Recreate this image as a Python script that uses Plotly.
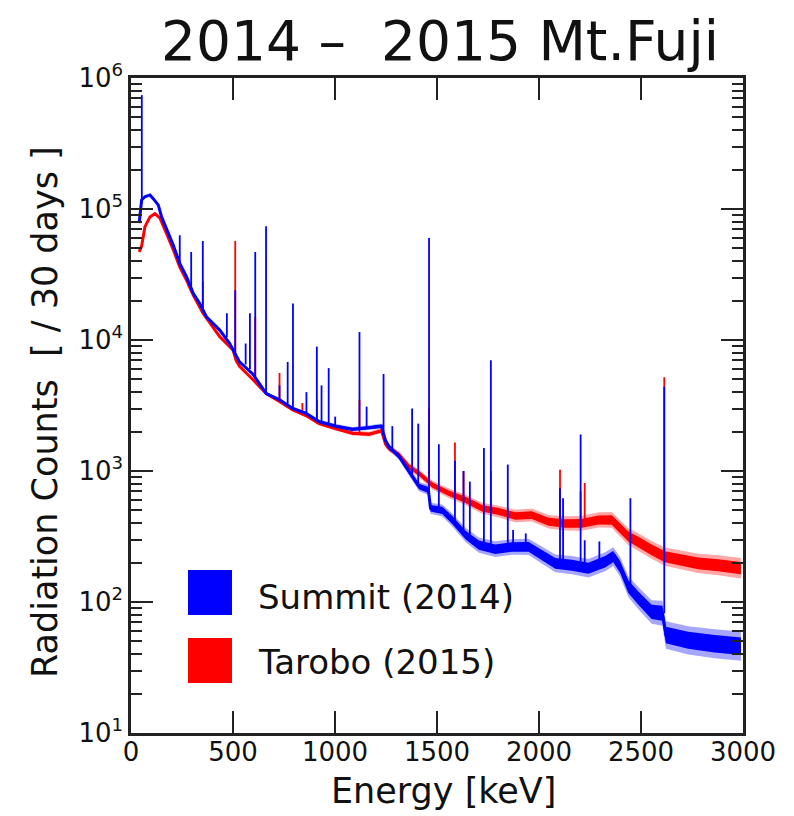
import plotly.graph_objects as go

# ---------------- data ----------------
# continuum of the Summit (2014) spectrum: energy [keV], counts, noise half-width [decades]
blue_E = [40, 52, 68, 93, 109, 134, 150, 174, 207, 239, 272, 305, 337, 370, 435, 484, 508, 532,
          597, 663, 728, 793, 858, 923, 1005, 1086, 1168, 1228, 1248, 1265, 1314, 1363, 1412,
          1458, 1468, 1526, 1575, 1640, 1705, 1786, 1868, 1949, 2014, 2080, 2161, 2242, 2324,
          2364, 2397, 2438, 2487, 2552, 2605, 2622, 2731, 2861, 2990]
blue_C = [7.8e4, 1.17e5, 1.24e5, 1.28e5, 1.2e5, 1.07e5, 8.7e4, 7.1e4, 5.3e4, 3.85e4, 3.04e4,
          2.27e4, 1.9e4, 1.5e4, 1.19e4, 9.4e3, 7.9e3, 6.8e3, 5.5e3, 3.9e3, 3.5e3, 3.0e3, 2.76e3,
          2.38e3, 2.2e3, 2.08e3, 2.14e3, 2.2e3, 1.7e3, 1.53e3, 1.29e3, 1.0e3, 760, 716, 519, 500,
          423, 325, 272, 253, 263, 263, 228, 197, 191, 181, 203, 222, 186, 131, 107, 84, 82, 56,
          51, 48, 46]
blue_N = [0.008, 0.008, 0.008, 0.008, 0.008, 0.008, 0.008, 0.008, 0.008, 0.008, 0.008, 0.008,
          0.008, 0.008, 0.009, 0.01, 0.01, 0.01, 0.011, 0.012, 0.013, 0.013, 0.014, 0.015,
          0.016, 0.017, 0.018, 0.02, 0.022, 0.024, 0.027, 0.032, 0.035, 0.038, 0.042, 0.046,
          0.05, 0.054, 0.058, 0.06, 0.06, 0.062, 0.065, 0.068, 0.07, 0.07, 0.072, 0.072, 0.075,
          0.08, 0.085, 0.09, 0.095, 0.105, 0.108, 0.11, 0.112]

# continuum of the Tarobo (2015) spectrum
red_E = [40, 52, 68, 93, 117, 142, 174, 207, 239, 272, 305, 353, 435, 500, 515, 532, 597, 663,
         728, 793, 858, 923, 1005, 1086, 1168, 1228, 1248, 1265, 1314, 1363, 1412, 1478, 1558,
         1640, 1721, 1803, 1884, 1965, 2047, 2129, 2210, 2291, 2357, 2389, 2438, 2487, 2552,
         2617, 2699, 2780, 2878, 2990]
red_C = [4.7e4, 5.2e4, 7.3e4, 8.7e4, 9.2e4, 8.5e4, 6.5e4, 4.9e4, 3.6e4, 2.87e4, 2.2e4, 1.6e4,
         1.06e4, 8.4e3, 7.0e3, 6.3e3, 5.0e3, 3.9e3, 3.4e3, 2.93e3, 2.65e3, 2.3e3, 2.1e3, 1.94e3,
         1.91e3, 2.03e3, 1.6e3, 1.48e3, 1.33e3, 1.08e3, 960, 780, 676, 602, 519, 490, 453, 461,
         410, 398, 398, 423, 423, 376, 316, 288, 250, 222, 209, 197, 191, 181]
red_N = [0.008, 0.008, 0.008, 0.008, 0.008, 0.008, 0.008, 0.008, 0.008, 0.008, 0.008, 0.008,
         0.009, 0.01, 0.01, 0.01, 0.011, 0.012, 0.013, 0.013, 0.014, 0.015, 0.016, 0.017,
         0.018, 0.02, 0.022, 0.024, 0.026, 0.028, 0.03, 0.033, 0.036, 0.039, 0.042, 0.045, 0.048,
         0.05, 0.052, 0.054, 0.056, 0.058, 0.06, 0.062, 0.064, 0.066, 0.068, 0.07, 0.072, 0.074,
         0.076, 0.078]

# photo-peaks: energy [keV], base counts, peak counts
blue_pk_E = [53, 239, 295, 352, 470, 511, 562, 583, 609, 662, 728, 768, 794, 860, 911, 934, 969,
             1001, 1120, 1155, 1238, 1281, 1378, 1408, 1461, 1509, 1588, 1630, 1661, 1730, 1764,
             1847, 1873, 1935, 2103, 2118, 2204, 2224, 2296, 2448, 2614]
blue_pk_B = [1.1e5, 3.85e4, 2.4e4, 1.65e4, 1.05e4, 8.0e3, 6.5e3, 6.0e3, 5.3e3, 3.9e3, 3.5e3,
             3.2e3, 3.0e3, 2.7e3, 2.45e3, 2.35e3, 2.3e3, 2.2e3, 2.1e3, 2.12e3, 2.0e3, 1.45e3, 950,
             780, 716, 505, 410, 340, 320, 265, 258, 260, 262, 263, 195, 193, 186, 184, 195, 125,
             82]
blue_pk_T = [7.4e5, 6.3e4, 4.7e4, 5.7e4, 1.6e4, 2.4e4, 9.4e3, 1.6e4, 4.7e4, 7.4e4, 4.5e3,
             6.8e3, 1.9e4, 4.0e3, 8.9e3, 4.5e3, 6.1e3, 2.6e3, 1.15e4, 3.1e3, 5.5e3, 2.2e3, 3.0e3,
             2.3e3, 6.0e4, 1.6e3, 1.2e3, 1.0e3, 830, 1.5e3, 7.0e3, 1.12e3, 355, 334, 740, 620,
             1.9e3, 296, 290, 620, 4.4e3]

red_pk_E = [352, 511, 609, 728, 840, 911, 1120, 1461, 1588, 1630, 1764, 2103, 2204, 2224, 2614]
red_pk_B = [1.6e4, 7.5e3, 5.0e3, 3.4e3, 2.7e3, 2.3e3, 1.93e3, 860, 660, 620, 500, 400, 398,
            398, 222]
red_pk_T = [2.8e4, 5.7e4, 1.5e4, 5.6e3, 3.3e3, 3.5e3, 3.5e3, 3.0e3, 1.65e3, 1.0e3, 1.0e3,
            1.02e3, 700, 810, 5.2e3]

x_ticks = [0, 500, 1000, 1500, 2000, 2500, 3000]
y_ticks = [1e1, 1e2, 1e3, 1e4, 1e5, 1e6]
y_ticktext = ["10<sup>1</sup>", "10<sup>2</sup>", "10<sup>3</sup>", "10<sup>4</sup>",
              "10<sup>5</sup>", "10<sup>6</sup>"]
y_minor = [m * 10 ** d for d in range(1, 6) for m in range(2, 10)]

series = [
    ("Tarobo (2015)", "#ff0000", "rgba(255,0,0,0.35)", red_E, red_C, red_N, red_pk_E, red_pk_B, red_pk_T),
    ("Summit (2014)", "#0000ff", "rgba(0,0,255,0.35)", blue_E, blue_C, blue_N, blue_pk_E, blue_pk_B, blue_pk_T),
]

FONT = "DejaVu Sans, Verdana, sans-serif"

fig = go.Figure()
for name, col, fcol, E, C, N, pE, pB, pT in series:
    up = [c * 10 ** n for c, n in zip(C, N)]
    lo = [c / 10 ** n for c, n in zip(C, N)]
    up2 = [c * 10 ** (n * 0.6) for c, n in zip(C, N)]
    lo2 = [c / 10 ** (n * 0.6) for c, n in zip(C, N)]
    fig.add_trace(go.Scatter(x=E + E[::-1], y=up + lo[::-1], fill="toself", fillcolor=fcol,
                             line=dict(width=0), mode="lines", hoverinfo="skip", showlegend=False))
    fig.add_trace(go.Scatter(x=E + E[::-1], y=up2 + lo2[::-1], fill="toself", fillcolor=col,
                             line=dict(width=0), mode="lines", hoverinfo="skip", showlegend=False))
    fig.add_trace(go.Scatter(x=E, y=C, mode="lines", line=dict(color=col, width=3),
                             name=name, showlegend=False))
    px, py = [], []
    for e, b, t in zip(pE, pB, pT):
        px += [e, e, None]
        py += [b, t, None]
    fig.add_trace(go.Scatter(x=px, y=py, mode="lines", line=dict(color=col, width=1.8),
                             hoverinfo="skip", showlegend=False))

# page is drawn with an 8 px body margin: positions below are page pixels
OFF = 8
L, R, T, B = 131.0 - OFF, 743.0 - OFF, 78.0 - OFF, 733.0 - OFF
def pxx(v):
    return (v - OFF - L) / (R - L)
def pxy(v):
    return (B - (v - OFF)) / (B - T)

for y0, y1, col, label, yc in [(615, 570, "#0000ff", "Summit (2014)", 597),
                               (683, 638, "#ff0000", "Tarobo (2015)", 662)]:
    fig.add_shape(type="rect", xref="paper", yref="paper", x0=pxx(188), x1=pxx(232),
                  y0=pxy(y0), y1=pxy(y1), fillcolor=col, line=dict(width=0))
    fig.add_annotation(xref="paper", yref="paper", x=pxx(256), y=pxy(yc), text=label,
                       showarrow=False, xanchor="left", yanchor="middle",
                       font=dict(family=FONT, size=34, color="#111111"))

fig.add_annotation(xref="paper", yref="paper", x=pxx(443), y=pxy(791), text="Energy [keV]",
                   showarrow=False, xanchor="center", yanchor="middle",
                   font=dict(family=FONT, size=35, color="#111111"))
fig.add_annotation(xref="paper", yref="paper", x=pxx(45), y=pxy(412),
                   text="Radiation Counts  [ / 30 days ]", textangle=-90,
                   showarrow=False, xanchor="center", yanchor="middle",
                   font=dict(family=FONT, size=35, color="#111111"))

W, H = 794, 816
fig.update_layout(
    width=W, height=H,
    margin=dict(l=L, r=W - R, t=T, b=H - B, autoexpand=False),
    paper_bgcolor="white", plot_bgcolor="white",
    title=dict(text="2014 –  2015 Mt.Fuji", x=(440 - OFF) / W, xanchor="center",
               y=1 - (41 - OFF) / H, yref="container", yanchor="middle",
               font=dict(family=FONT, size=55, color="#111111")),
    showlegend=False,
)
fig.update_xaxes(range=[0, 3000], tickvals=x_ticks, ticks="inside", ticklen=22, tickwidth=2,
                 tickcolor="#222222", showline=True, linewidth=2.5, linecolor="#222222",
                 mirror="ticks", showgrid=False, zeroline=False, automargin=False,
                 ticklabelstandoff=-6,
                 tickfont=dict(family=FONT, size=26, color="#111111"))
fig.update_yaxes(type="log", range=[1, 6], tickvals=y_ticks, ticktext=y_ticktext,
                 ticks="inside", ticklen=22, tickwidth=2, tickcolor="#222222",
                 showline=True, linewidth=2.5, linecolor="#222222", mirror="ticks",
                 showgrid=False, zeroline=False, automargin=False,
                 minor=dict(tickvals=y_minor, ticks="inside", ticklen=11, tickwidth=1.5,
                            tickcolor="#222222", showgrid=False),
                 tickfont=dict(family=FONT, size=26, color="#111111"))

fig.write_html("out.html")
